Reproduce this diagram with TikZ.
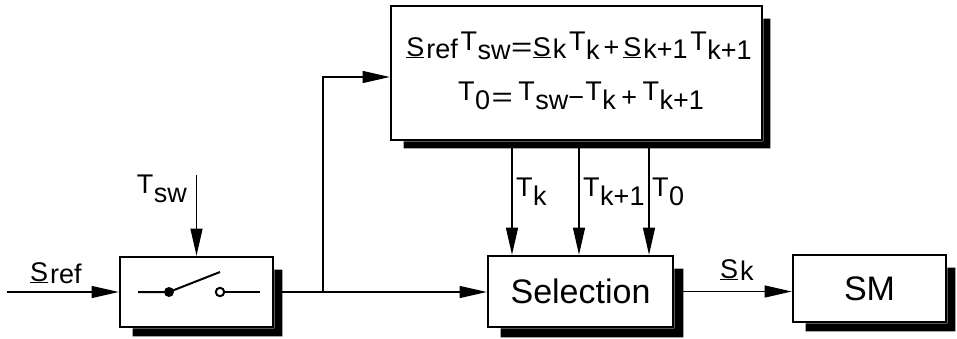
\documentclass[tikz,border=0pt]{standalone}
\usepackage{fontspec}
\usepackage{graphicx}
\setmainfont{Liberation Sans}
\usetikzlibrary{arrows.meta}

% raised T followed by a lowered subscript, underlined S with subscript
\newcommand\Tsb[1]{\raisebox{.22em}{T}\kern.02em\raisebox{-.14em}{#1}}
\newcommand\Ssb[1]{\underline{S}\kern.07em\raisebox{-.1em}{#1}}
\newcommand\wideeq{\scalebox{1.35}[1]{=}}
% drop shadow on the lower right side of a box
\newcommand\boxshadow[2]{%
  \fill ([xshift=14pt]#1.south west) -- ([xshift=14pt,yshift=-#2]#1.south west)
     -- ([xshift=#2,yshift=-#2]#1.south east) -- ([xshift=#2,yshift=-14pt]#1.north east)
     -- ([yshift=-14pt]#1.north east) -- (#1.south east) -- cycle;}

\begin{document}
\begin{tikzpicture}[x=1pt,y=-1pt,
  blk/.style={draw, line width=2.6pt, inner sep=0pt, fill=white},
  arr/.style={line width=1.1pt, -{Triangle[length=27pt,width=12pt]}},
  wire/.style={line width=1.1pt},
  lbl/.style={inner sep=0pt, font=\fontsize{27}{30}\selectfont},
  big/.style={font=\fontsize{34}{38}\selectfont}]
\useasboundingbox (0,0) rectangle (957,338);

% blocks
\node[blk, minimum width=153pt, minimum height=70pt] (sw) at (196.5,292) {};
\node[blk, minimum width=371pt, minimum height=134pt] (top) at (576.5,73) {};
\node[blk, minimum width=185pt, minimum height=71pt, big] (sel) at (580.5,291.5) {Selection};
\node[blk, minimum width=153pt, minimum height=67pt, big] (sm) at (869.5,288.5) {SM};
\boxshadow{sw}{8pt}
\boxshadow{top}{7pt}
\boxshadow{sel}{9pt}
\boxshadow{sm}{8pt}

% switch symbol
\coordinate (c1) at (138,292);
\coordinate (c2) at (169,292);
\coordinate (c3) at (220,272);
\coordinate (c4) at (220,292);
\coordinate (c5) at (260,292);
\draw[line width=2pt] (c1) -- (c2) -- (c3);
\fill (c2) circle (5pt);
\draw[line width=2pt] (c4) circle (4.2pt);
\draw[line width=2pt] ([xshift=4.2pt]c4) -- (c5);

% formulas
\node[lbl, anchor=base] (eq1) at (579,56)
  {\Ssb{ref}\kern.1em\Tsb{sw}\kern.02em\wideeq\kern.02em\Ssb{k}\kern.1em\Tsb{k}\kern.15em+\kern.15em\Ssb{k+1}\kern.1em\Tsb{k+1}};
\node[lbl, anchor=base] (eq2) at (581,106)
  {\Tsb{0}\kern.05em\wideeq\kern.2em\Tsb{sw}−\kern.05em\Tsb{k}\kern.2em+\kern.2em\Tsb{k+1}};

% connectors
\coordinate (in) at (7,292);
\coordinate (tsw) at (196.5,175);
\coordinate (j) at (323,292);
\coordinate (jt) at (323,77);
\coordinate (tk) at (512,147);
\coordinate (tk1) at (579,147);
\coordinate (t0) at (649,147);
\draw[arr] (in) -- (sw.west);
\draw[arr] (tsw) -- (sw.north);
\draw[wire] ([xshift=8pt]sw.east) -- (j);
\draw[arr] (j) -- (j -| sel.west);
\draw[arr] (j) -- (jt) -- (jt -| top.west);
\draw[arr] (tk) -- (tk |- sel.north);
\draw[arr] (tk1) -- (tk1 |- sel.north);
\draw[arr] (t0) -- (t0 |- sel.north);
\draw[arr] ([xshift=9pt]sel.east) -- (sel.east -| sm.west);

% signal labels
\node[lbl, anchor=base west] (lref) at (30,281) {\Ssb{ref}};
\node[lbl, anchor=base east] (lsw) at (187,199) {\Tsb{sw}};
\node[lbl, anchor=base west] (lk) at (516,202) {\Tsb{k}};
\node[lbl, anchor=base west] (lk1) at (583,202) {\Tsb{k+1}};
\node[lbl, anchor=base west] (l0) at (652,202) {\Tsb{0}};
\node[lbl, anchor=base west] (lsk) at (720,278) {\Ssb{k}};
\end{tikzpicture}
\end{document}
